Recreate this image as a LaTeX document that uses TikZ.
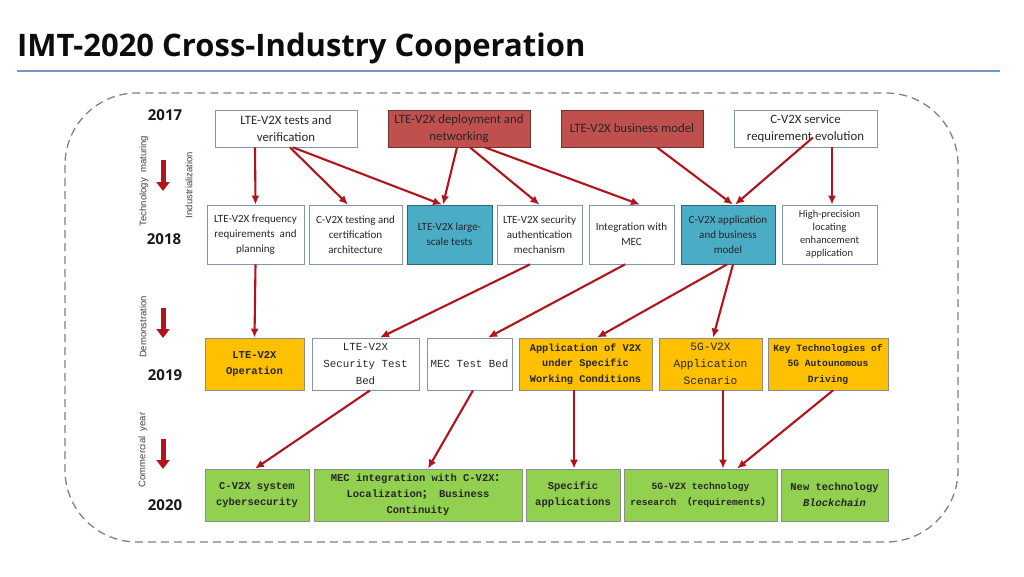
\documentclass[tikz,border=0pt]{standalone}
\usepackage{fontspec}
\usepackage{tikz}
\usetikzlibrary{arrows.meta}

\setmainfont{Carlito}
\newfontfamily\titlefont{Open Sans}
\newfontfamily\sidefont{Liberation Sans}
\newfontfamily\monofont{Liberation Mono}
\newfontfamily\cjk{Noto Sans CJK SC}

\definecolor{linkred}{HTML}{B3141C}
\definecolor{boxred}{HTML}{C0504D}
\definecolor{boxteal}{HTML}{4BACC6}
\definecolor{boxorange}{HTML}{FFC000}
\definecolor{boxgreen}{HTML}{92D050}
\definecolor{boxline}{HTML}{8495B0}
\definecolor{rulecolor}{HTML}{6E9BCB}

\tikzset{
    box/.style={draw=#1, line width=0.8pt, align=center, inner sep=1pt, text=black!85},
    box/.default=boxline,
    dims/.style 2 args={minimum width=#1pt, minimum height=#2pt},
    link/.style={draw=linkred, line width=2.1pt, -{Latex[length=9pt,width=8pt]}},
    trend/.style={draw=linkred, line width=5pt, -{Triangle[length=9pt,width=13pt]}},
    year/.style={font=\titlefont\bfseries\fontsize{15}{15}\selectfont, text=black!90},
    phase/.style={font=\sidefont\fontsize{9.5}{10}\selectfont, text=black!75, rotate=90},
}

\newcommand{\toprow}{\fontsize{12.8}{17}\selectfont}
\newcommand{\secrow}{\fontsize{11}{15}\selectfont}
\newcommand{\monorow}[1]{\monofont\bfseries\fontsize{#1}{16}\selectfont}

\begin{document}
\begin{tikzpicture}[
        x=1pt, y=-1pt,
        declare function={
            rowA=128.5;
            rowB=234.5;
            rowC=364;
            rowD=495;
        }
    ]
    \useasboundingbox (0,0) rectangle (1024,576);

    % title and rule
    \node[anchor=base west, inner sep=0pt, text=black!95,
        font=\titlefont\bfseries\fontsize{31}{31}\selectfont] (title) at (17,56) {IMT-2020 Cross-Industry Cooperation};
    \draw[rulecolor, line width=2.6pt] (17,71) -- (1000,71);

    % dashed frame
    \draw[black!50, line width=1.3pt, dash pattern=on 8pt off 5pt, rounded corners=72pt] (65,93) rectangle (958,542);

    % years and phases
    \node[year] (y17) at (165,115) {2017};
    \node[year] (y18) at (164,239) {2018};
    \node[year] (y19) at (165,375) {2019};
    \node[year] (y20) at (165,505) {2020};

    \node[phase] (maturing) at (144,181) {Technology\ \ maturing};
    \node[phase] (industry) at (189,185) {Industrialization};
    \node[phase] (demo) at (143,327) {Demonstration};
    \node[phase] (commercial) at (143,450) {Commercial\ \ year};

    \draw[trend] (163,160) -- (163,191);
    \draw[trend] (163,308) -- (163,338);
    \draw[trend] (163,439) -- (163,469);

    % 2017
    \node[box, dims={142}{37}, font=\toprow] (tests) at (286,rowA) {LTE-V2X tests and\\verification};
    \node[box=boxred!60!black, fill=boxred, dims={142}{37}, font=\toprow] (deploy) at (459,rowA) {LTE-V2X deployment and\\networking};
    \node[box=boxred!60!black, fill=boxred, dims={142}{37}, font=\toprow] (business) at (632,rowA) {LTE-V2X business model};
    \node[box, dims={143}{37}, font=\toprow] (service) at (805.5,rowA) {C-V2X service\\requirement evolution};

    % 2018
    \node[box, dims={97}{59}, font=\secrow] (freq) at (255.5,rowB) {LTE-V2X frequency\\requirements\ \ and\\planning};
    \node[box, dims={93}{59}, font=\secrow] (certif) at (355.5,rowB) {C-V2X testing and\\certification\\architecture};
    \node[box=boxteal!60!black, fill=boxteal, dims={85}{59}, font=\secrow] (largescale) at (449.5,rowB) {LTE-V2X large-\\scale tests};
    \node[box, dims={85}{59}, font=\secrow] (security) at (539.5,rowB) {LTE-V2X security\\authentication\\mechanism};
    \node[box, dims={85}{59}, font=\secrow] (mecint) at (631.5,rowB) {Integration with\\MEC};
    \node[box=boxteal!60!black, fill=boxteal, dims={94}{59}, font=\secrow] (appmodel) at (728,rowB) {C-V2X application\\and business\\model};
    \node[box, dims={95}{59}, font=\fontsize{10.5}{13}\selectfont] (locating) at (829.5,rowB) {High-precision\\locating\\enhancement\\application};

    % 2019
    \node[box=black!45, fill=boxorange, dims={99}{52}, font=\monorow{10.5}] (operation) at (254.5,rowC) {LTE-V2X\\Operation};
    \node[box, dims={107}{52}, font=\monofont\fontsize{10.8}{17}\selectfont] (sectestbed) at (365.5,rowC) {LTE-V2X\\Security Test\\Bed};
    \node[box, dims={85}{52}, font=\monofont\fontsize{10.8}{17}\selectfont] (mectestbed) at (469.5,rowC) {MEC Test Bed};
    \node[box=black!45, fill=boxorange, dims={133}{52}, font=\monofont\bfseries\fontsize{10.3}{15.5}\selectfont] (workcond) at (585.5,rowC) {Application of V2X\\under Specific\\Working Conditions};
    \node[box=black!45, fill=boxorange, dims={103}{52}, font=\monofont\fontsize{11.2}{17}\selectfont] (scenario) at (710.5,rowC) {5G-V2X\\Application\\Scenario};
    \node[box=black!45, fill=boxorange, dims={120}{52}, font=\monofont\bfseries\fontsize{9.6}{15.5}\selectfont] (autodriving) at (828,rowC) {Key Technologies of\\5G Autounomous\\Driving};

    % 2020
    \node[box=black!45, fill=boxgreen, dims={104}{52}, font=\monorow{10.5}] (cyber) at (257,rowD) {C-V2X system\\cybersecurity};
    \node[box=black!45, fill=boxgreen, dims={208}{52}, font=\monorow{10.5}] (mecbiz) at (418,rowD) {MEC integration with C-V2X{\cjk ：}\\Localization{\cjk ；}\ Business\\Continuity};
    \node[box=black!45, fill=boxgreen, dims={94}{52}, font=\monorow{10.5}] (specific) at (573,rowD) {Specific\\applications};
    \node[box=black!45, fill=boxgreen, dims={153}{52}, font=\monofont\bfseries\fontsize{9.6}{16}\selectfont] (research) at (700.5,rowD) {5G-V2X technology\\research {\cjk （}requirements{\cjk ）}};
    \node[box=black!45, fill=boxgreen, dims={107}{52}, font=\monorow{10.5}] (blockchain) at (834.5,rowD) {New technology\\\textit{Blockchain}};

    % 2017 -> 2018
    \draw[link] ([xshift=-31pt]tests.south) -- (freq.north);
    \draw[link] ([xshift=4pt]tests.south) -- ([xshift=-7.5pt]certif.north);
    \draw[link] ([xshift=7pt]tests.south) -- ([xshift=-7.5pt]largescale.north);
    \draw[link] ([xshift=-2pt]deploy.south) -- ([xshift=-6.5pt]largescale.north);
    \draw[link] ([xshift=11pt]deploy.south) -- (security.north);
    \draw[link] ([xshift=26pt]deploy.south) -- ([xshift=8.5pt]mecint.north);
    \draw[link] ([xshift=25pt]business.south) -- ([xshift=5pt]appmodel.north);
    \draw[link] ([xshift=7.5pt,yshift=10pt]service.south) -- ([xshift=7pt]appmodel.north);
    \draw[link] ([xshift=26.5pt]service.south) -- ([xshift=2.5pt]locating.north);

    % 2018 -> 2019
    \draw[link] (freq.south) -- (operation.north);
    \draw[link] ([xshift=-9.5pt]security.south) -- ([xshift=14.5pt]sectestbed.north);
    \draw[link] ([xshift=-6.5pt]mecint.south) -- ([xshift=18.5pt]mectestbed.north);
    \draw[link] ([xshift=-1pt]appmodel.south) -- ([xshift=11.5pt]workcond.north);
    \draw[link] ([xshift=5pt]appmodel.south) -- ([xshift=2.5pt]scenario.north);

    % 2019 -> 2020
    \draw[link] ([xshift=4.5pt]sectestbed.south) -- ([xshift=-2pt]cyber.north);
    \draw[link] ([xshift=3.5pt]mectestbed.south) -- ([xshift=10pt]mecbiz.north);
    \draw[link] ([xshift=-11.5pt]workcond.south) -- ([xshift=1pt]specific.north);
    \draw[link] ([xshift=12.5pt]scenario.south) -- ([xshift=22.5pt]research.north);
    \draw[link] ([xshift=5pt]autodriving.south) -- ([xshift=36.5pt]research.north);
\end{tikzpicture}
\end{document}
